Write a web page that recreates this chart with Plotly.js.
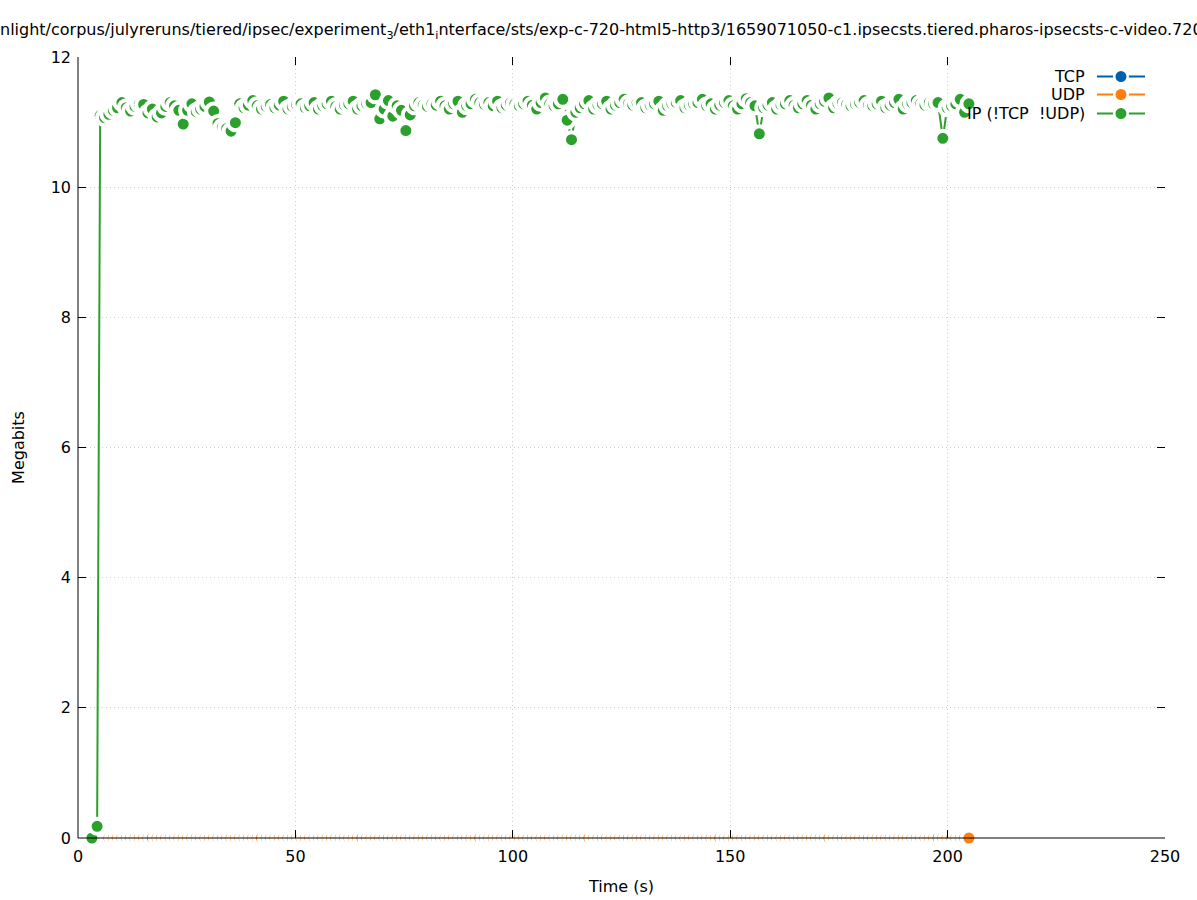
<!DOCTYPE html>
<html>
<head>
<meta charset="utf-8">
<script src="https://cdn.plot.ly/plotly-3.0.1.min.js"></script>
<style>html,body{margin:0;padding:0;background:#fff;}#chart{width:1197px;height:900px;}</style>
</head>
<body>
<div id="chart"></div>
<script>
// Time stamps (s)
const times = [
  3.2, 4.4,
  5.1, 6.1, 7.1, 8.1, 9.1, 10.1, 11.1, 12.1, 13.1, 14.1,
  15.1, 16.1, 17.1, 18.2, 19.2, 20.2, 21.2, 22.2, 23.2, 24.2,
  25.2, 26.2, 27.2, 28.2, 29.2, 30.2, 31.2, 32.2, 33.2, 34.2,
  35.2, 36.2, 37.2, 38.2, 39.2, 40.2, 41.2, 42.2, 43.3, 44.3,
  45.3, 46.3, 47.3, 48.3, 49.3, 50.3, 51.3, 52.3, 53.3, 54.3,
  55.3, 56.3, 57.3, 58.3, 59.3, 60.3, 61.3, 62.3, 63.3, 64.3,
  65.3, 66.4, 67.4, 68.4, 69.4, 70.4, 71.4, 72.4, 73.4, 74.4,
  75.4, 76.4, 77.4, 78.4, 79.4, 80.4, 81.4, 82.4, 83.4, 84.4,
  85.4, 86.4, 87.4, 88.4, 89.4, 90.4, 91.4, 92.4, 93.5, 94.5,
  95.5, 96.5, 97.5, 98.5, 99.5, 100.5, 101.5, 102.5, 103.5, 104.5,
  105.5, 106.5, 107.5, 108.5, 109.5, 110.5, 111.5, 112.5, 113.5, 114.5,
  115.5, 116.5, 117.5, 118.6, 119.6, 120.6, 121.6, 122.6, 123.6, 124.6,
  125.6, 126.6, 127.6, 128.6, 129.6, 130.6, 131.6, 132.6, 133.6, 134.6,
  135.6, 136.6, 137.6, 138.6, 139.6, 140.6, 141.6, 142.6, 143.6, 144.6,
  145.6, 146.6, 147.6, 148.7, 149.7, 150.7, 151.7, 152.7, 153.7, 154.7,
  155.7, 156.7, 157.7, 158.7, 159.7, 160.7, 161.7, 162.7, 163.7, 164.7,
  165.7, 166.7, 167.7, 168.7, 169.7, 170.7, 171.7, 172.7, 173.8, 174.8,
  175.8, 176.8, 177.8, 178.8, 179.8, 180.8, 181.8, 182.8, 183.8, 184.8,
  185.8, 186.8, 187.8, 188.8, 189.8, 190.8, 191.8, 192.8, 193.8, 194.8,
  195.8, 196.8, 197.8, 198.9, 199.9, 200.9, 201.9, 202.9, 203.9, 204.9
];

// Other (!TCP !UDP) traffic, Megabits
const otherMbits = [
  0, 0.18,
  11.10, 11.07, 11.12, 11.18, 11.22, 11.30, 11.22, 11.17, 11.24, 11.28,
  11.27, 11.14, 11.20, 11.08, 11.14, 11.24, 11.30, 11.25, 11.18, 10.97,
  11.18, 11.28, 11.16, 11.20, 11.24, 11.31, 11.17, 10.98, 10.92, 10.90,
  10.86, 10.99, 11.28, 11.22, 11.26, 11.33, 11.25, 11.20, 11.24, 11.27,
  11.22, 11.26, 11.32, 11.20, 11.24, 11.27, 11.28, 11.22, 11.25, 11.30,
  11.20, 11.25, 11.28, 11.32, 11.24, 11.20, 11.26, 11.28, 11.32, 11.20,
  11.25, 11.28, 11.30, 11.42, 11.05, 11.20, 11.33, 11.09, 11.25, 11.18,
  10.87, 11.11, 11.25, 11.30, 11.26, 11.24, 11.28, 11.26, 11.32, 11.25,
  11.20, 11.28, 11.32, 11.15, 11.25, 11.28, 11.35, 11.30, 11.27, 11.30,
  11.25, 11.32, 11.22, 11.26, 11.30, 11.28, 11.25, 11.28, 11.32, 11.26,
  11.20, 11.30, 11.37, 11.28, 11.25, 11.28, 11.35, 11.03, 10.73, 11.15,
  11.22, 11.28, 11.33, 11.20, 11.26, 11.28, 11.32, 11.20, 11.26, 11.30,
  11.35, 11.28, 11.26, 11.30, 11.30, 11.22, 11.26, 11.28, 11.32, 11.18,
  11.25, 11.28, 11.30, 11.33, 11.22, 11.26, 11.28, 11.30, 11.35, 11.25,
  11.28, 11.20, 11.26, 11.30, 11.33, 11.25, 11.20, 11.28, 11.36, 11.30,
  11.25, 10.82, 11.22, 11.26, 11.30, 11.20, 11.26, 11.28, 11.33, 11.26,
  11.22, 11.28, 11.33, 11.26, 11.20, 11.28, 11.32, 11.37, 11.22, 11.28,
  11.30, 11.27, 11.25, 11.28, 11.30, 11.33, 11.26, 11.25, 11.28, 11.32,
  11.22, 11.26, 11.30, 11.35, 11.20, 11.28, 11.30, 11.33, 11.28, 11.26,
  11.30, 11.28, 11.30, 10.75, 11.22, 11.25, 11.28, 11.35, 11.15, 11.28
];

// UDP traffic, Megabits
const udpMbits = [
  0, 0,
  0, 0, 0, 0, 0, 0, 0, 0, 0, 0,  0, 0, 0, 0, 0, 0, 0, 0, 0, 0,
  0, 0, 0, 0, 0, 0, 0, 0, 0, 0,  0, 0, 0, 0, 0, 0, 0, 0, 0, 0,
  0, 0, 0, 0, 0, 0, 0, 0, 0, 0,  0, 0, 0, 0, 0, 0, 0, 0, 0, 0,
  0, 0, 0, 0, 0, 0, 0, 0, 0, 0,  0, 0, 0, 0, 0, 0, 0, 0, 0, 0,
  0, 0, 0, 0, 0, 0, 0, 0, 0, 0,  0, 0, 0, 0, 0, 0, 0, 0, 0, 0,
  0, 0, 0, 0, 0, 0, 0, 0, 0, 0,  0, 0, 0, 0, 0, 0, 0, 0, 0, 0,
  0, 0, 0, 0, 0, 0, 0, 0, 0, 0,  0, 0, 0, 0, 0, 0, 0, 0, 0, 0,
  0, 0, 0, 0, 0, 0, 0, 0, 0, 0,  0, 0, 0, 0, 0, 0, 0, 0, 0, 0,
  0, 0, 0, 0, 0, 0, 0, 0, 0, 0,  0, 0, 0, 0, 0, 0, 0, 0, 0, 0,
  0, 0, 0, 0, 0, 0, 0, 0, 0, 0,  0, 0, 0, 0, 0, 0, 0, 0, 0, 0
];

// TCP traffic, Megabits (none observed)
const tcpMbits = [];
const tcpTimes = [];

const seriesNames = ['TCP', 'UDP', 'IP (!TCP&#160;&#160;!UDP)'];
const seriesColors = ['#0060ad', '#ff7f0e', '#2ca02c'];

const xTickVals = [0, 50, 100, 150, 200, 250];
const yTickVals = [0, 2, 4, 6, 8, 10, 12];

const titleText = 'nlight/corpus/julyreruns/tiered/ipsec/experiment<sub>3</sub>/eth1<sub>i</sub>nterface/sts/exp-c-720-html5-http3/1659071050-c1.ipsecsts.tiered.pharos-ipsecsts-c-video.720p.pcap';

const FONT = 'DejaVu Sans, sans-serif';

function mkTrace(x, y, i) {
  return {
    type: 'scatter', mode: 'lines+markers', x: x, y: y, name: seriesNames[i],
    line: {color: seriesColors[i], width: 2},
    marker: {color: seriesColors[i], size: 15, line: {color: '#ffffff', width: 4}},
    cliponaxis: false, showlegend: false, hoverinfo: 'x+y'
  };
}

const traces = [
  mkTrace(tcpTimes, tcpMbits, 0),
  mkTrace(times, udpMbits, 1),
  mkTrace(times, otherMbits, 2)
];

// border (left + bottom only), drawn in front like gnuplot's default border
const shapes = [
  {type: 'line', xref: 'paper', yref: 'paper', x0: 0, x1: 1, y0: 0, y1: 0,
   line: {color: '#000', width: 1}, layer: 'above'},
  {type: 'line', xref: 'paper', yref: 'paper', x0: 0, x1: 0, y0: 0, y1: 1,
   line: {color: '#000', width: 1}, layer: 'above'}
];

// custom legend: text right-aligned, sample to the right
const legendRows = [0.975, 0.952, 0.9276];
const annotations = [];
for (let i = 0; i < 3; i++) {
  annotations.push({
    xref: 'paper', yref: 'paper', x: 0.9282, y: legendRows[i],
    xanchor: 'right', yanchor: 'middle', showarrow: false,
    text: seriesNames[i], font: {family: FONT, size: 16, color: '#000'}
  });
  shapes.push({
    type: 'line', xref: 'paper', yref: 'paper',
    x0: 0.9374, x1: 0.9816, y0: legendRows[i], y1: legendRows[i],
    line: {color: seriesColors[i], width: 2}
  });
  shapes.push({
    type: 'circle', xref: 'paper', yref: 'paper',
    xsizemode: 'pixel', ysizemode: 'pixel',
    xanchor: 0.9595, yanchor: legendRows[i],
    x0: -6.75, x1: 6.75, y0: -6.75, y1: 6.75,
    fillcolor: seriesColors[i], line: {color: '#ffffff', width: 2.5}
  });
}

const axisCommon = {
  ticks: 'inside', ticklen: 8, tickwidth: 1, tickcolor: '#000',
  showline: false, mirror: 'ticks',
  showgrid: true, gridcolor: '#d0d0d0', griddash: '1px,3px', gridwidth: 1,
  zeroline: false, tickfont: {family: FONT, size: 16, color: '#000'}
};

const layout = {
  width: 1197, height: 900,
  paper_bgcolor: '#fff', plot_bgcolor: '#fff',
  margin: {l: 78, r: 32, t: 57, b: 62},
  font: {family: FONT, size: 16, color: '#000'},
  title: {
    text: titleText, xref: 'container', x: 0, xanchor: 'left',
    yref: 'container', y: 0.967, yanchor: 'middle',
    font: {family: FONT, size: 16, color: '#000'}
  },
  xaxis: Object.assign({}, axisCommon, {
    range: [0, 250], tickvals: xTickVals, ticktext: xTickVals.map(String),
    ticklabelstandoff: 7,
    title: {text: 'Time (s)', font: {family: FONT, size: 16}, standoff: 15}
  }),
  yaxis: Object.assign({}, axisCommon, {
    range: [0, 12], tickvals: yTickVals, ticktext: yTickVals.map(String),
    ticklabelstandoff: 6,
    title: {text: 'Megabits', font: {family: FONT, size: 16}, standoff: 22}
  }),
  annotations: annotations,
  shapes: shapes,
  showlegend: false
};

Plotly.newPlot('chart', traces, layout, {displayModeBar: false, staticPlot: true});
</script>
</body>
</html>
